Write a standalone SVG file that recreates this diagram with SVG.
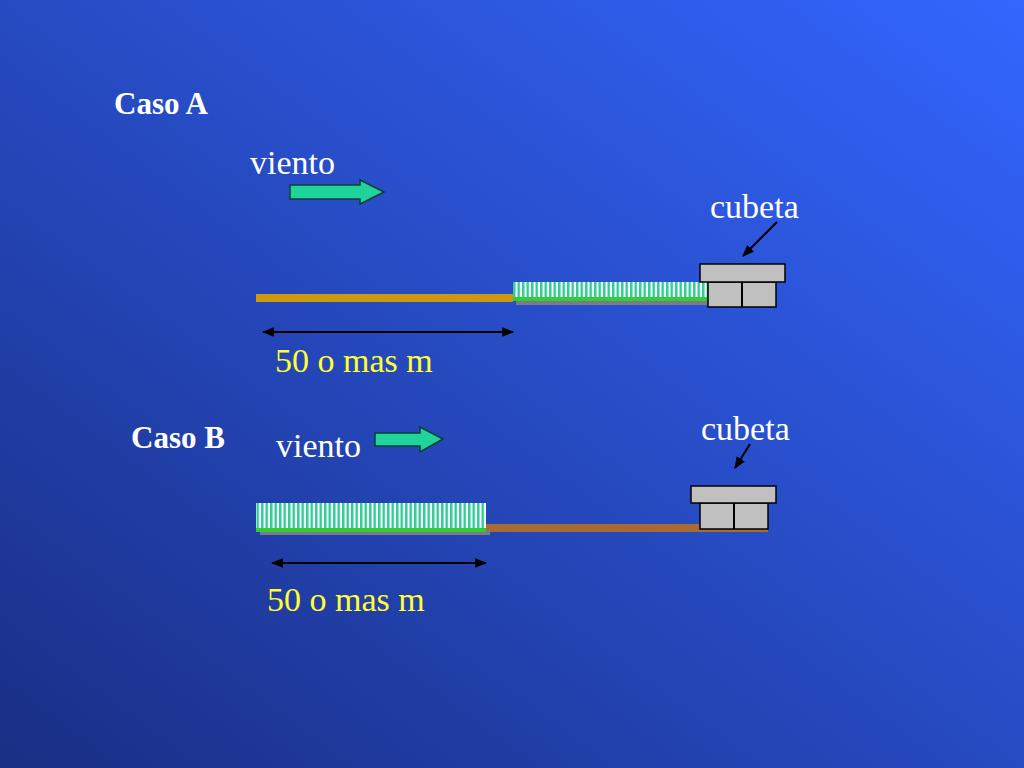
<svg xmlns="http://www.w3.org/2000/svg" width="1024" height="768" viewBox="0 0 1024 768">
<defs>
<linearGradient id="bg" x1="1" y1="0" x2="0" y2="1">
<stop offset="0" stop-color="#3366ff"/>
<stop offset="1" stop-color="#1a2f85"/>
</linearGradient>
<pattern id="grass" width="4.5" height="40" patternUnits="userSpaceOnUse">
<rect width="4.5" height="40" fill="#ffffff"/>
<rect x="0" width="2.5" height="40" fill="#33cc99"/>
</pattern>
<marker id="ah" viewBox="0 0 10 10" refX="9" refY="5" markerWidth="6" markerHeight="6" orient="auto-start-reverse">
<path d="M0,1 L10,5 L0,9 Z" fill="#000"/>
</marker>
<style>
.t{font-family:"Liberation Serif",serif;font-size:34px;fill:#fff}
.b{font-weight:bold;font-size:31px}
.y{fill:#ffff33}
.box{fill:#c0c0c0;stroke:#000;stroke-width:1.5}
.wind{fill:#1fd39a;stroke:#0a4030;stroke-width:1.5}
.ln{stroke:#000;stroke-width:2;fill:none}
</style>
</defs>
<rect width="1024" height="768" fill="url(#bg)"/>
<g id="caseA">
<text class="t b" x="114" y="114">Caso A</text>
<text class="t" x="250" y="174">viento</text>
<path class="wind" d="M290,185 L360,185 L360,180 L384,192 L360,204 L360,199 L290,199 Z"/>
<text class="t" x="710" y="218">cubeta</text>
<rect x="256" y="294" width="257" height="8" fill="#cc9911"/>
<rect x="516" y="300" width="192" height="5" fill="#7a7a8a"/>
<rect x="513" y="282" width="195" height="17" fill="url(#grass)"/>
<rect x="513" y="297" width="195" height="4" fill="#33cc33"/>
<rect class="box" x="708" y="282" width="68" height="25"/>
<line class="ln" x1="742" y1="282" x2="742" y2="307" stroke-width="1.5"/>
<rect class="box" x="700" y="264" width="85" height="18"/>
<text class="t y" x="275" y="372">50 o mas m</text>
</g>
<g id="caseB">
<text class="t b" x="131" y="448">Caso B</text>
<text class="t" x="276" y="457">viento</text>
<path class="wind" d="M375,433 L420,433 L420,427 L443,439 L420,452 L420,446 L375,446 Z"/>
<text class="t" x="701" y="440">cubeta</text>
<rect x="486" y="524" width="282" height="8" fill="#a86b33"/>
<rect x="260" y="530" width="230" height="5" fill="#7a7a8a"/>
<rect x="256" y="503" width="230" height="27" fill="url(#grass)"/>
<rect x="256" y="528" width="230" height="4" fill="#33cc33"/>
<rect class="box" x="700" y="503" width="68" height="26"/>
<line class="ln" x1="734" y1="503" x2="734" y2="529" stroke-width="1.5"/>
<rect class="box" x="691" y="486" width="85" height="17"/>
<text class="t y" x="267" y="611">50 o mas m</text>
</g>
<g id="connectors">
<line class="ln" x1="777" y1="222" x2="743" y2="256" marker-end="url(#ah)"/>
<line class="ln" x1="263" y1="332" x2="513" y2="332" marker-start="url(#ah)" marker-end="url(#ah)"/>
<line class="ln" x1="750" y1="444" x2="735" y2="468" marker-end="url(#ah)"/>
<line class="ln" x1="272" y1="563" x2="486" y2="563" marker-start="url(#ah)" marker-end="url(#ah)"/>
</g>
</svg>
